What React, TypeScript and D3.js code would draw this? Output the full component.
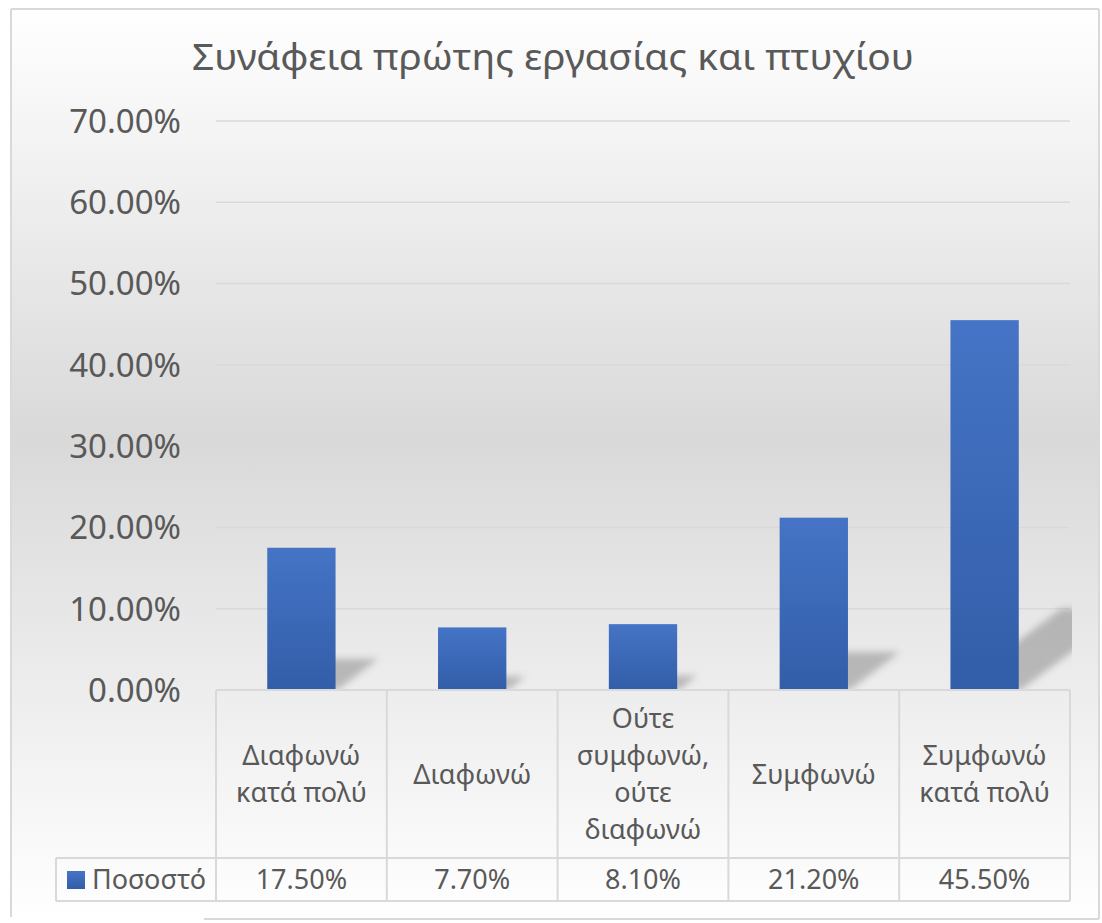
import React from "react";
import * as d3 from "d3";

const categories = ["Διαφωνώ κατά πολύ", "Διαφωνώ", "Ούτε συμφωνώ, ούτε διαφωνώ", "Συμφωνώ", "Συμφωνώ κατά πολύ"];
const categoryLines = [["Διαφωνώ", "κατά πολύ"], ["Διαφωνώ"], ["Ούτε", "συμφωνώ,", "ούτε", "διαφωνώ"], ["Συμφωνώ"], ["Συμφωνώ", "κατά πολύ"]];
const values = [0.175, 0.077, 0.081, 0.212, 0.455];
const valueLabels = ["17.50%", "7.70%", "8.10%", "21.20%", "45.50%"];
const yTicks = [0, 0.1, 0.2, 0.3, 0.4, 0.5, 0.6, 0.7];
const seriesName = "Ποσοστό";
const title = "Συνάφεια πρώτης εργασίας και πτυχίου";

const W = 1102;
const H = 923;
const FONT = "'Noto Sans', 'Open Sans', sans-serif";
const TEXT = "#595959";
const GRID = "#d9d9d9";

export default function App() {
  const plotL = 216, plotR = 1070, plotT = 121, plotB = 690;
  const rowDiv = 858, tableB = 901, legendL = 56;
  const x = d3.scaleBand<string>().domain(categories).range([plotL, plotR]).paddingInner(0.6).paddingOuter(0.3);
  const col = d3.scaleBand<string>().domain(categories).range([plotL, plotR]).padding(0);
  const y = d3.scaleLinear().domain([0, 0.7]).range([plotB, plotT]);
  const fmt = d3.format(".2%");
  const lineH = 37;
  const row1Mid = (plotB + rowDiv) / 2;
  const row2Mid = (rowDiv + tableB) / 2;

  return (
    <svg width={W} height={H} style={{ display: "block", position: "absolute", left: 0, top: 0 }}>
      <defs>
        <linearGradient id="bg" x1="0" y1="0" x2="0" y2="1">
          <stop offset="0" stopColor="#ffffff" />
          <stop offset="0.47" stopColor="#d9d9d9" />
          <stop offset="1" stopColor="#ffffff" />
        </linearGradient>
        <linearGradient id="bar" x1="0" y1="0" x2="0" y2="1">
          <stop offset="0" stopColor="#4574c6" />
          <stop offset="1" stopColor="#325da8" />
        </linearGradient>
        <filter id="blur" x="-50%" y="-50%" width="200%" height="200%">
          <feGaussianBlur stdDeviation="3.5" />
        </filter>
        <clipPath id="plotClip">
          <rect x={plotL} y={plotT - 20} width={plotR - plotL + 2} height={plotB - plotT + 20} />
        </clipPath>
      </defs>
      <rect x={0} y={0} width={W} height={H} fill="#ffffff" />
      <rect x={11} y={9} width={1088} height={910} fill="url(#bg)" />
      {/* frame */}
      <line x1={11} y1={9} x2={1099} y2={9} stroke="#d9d9d9" strokeWidth={2} />
      <line x1={11} y1={9} x2={11} y2={917} stroke="#d9d9d9" strokeWidth={2} />
      <line x1={1099} y1={9} x2={1099} y2={919} stroke="#d9d9d9" strokeWidth={2} />
      <line x1={204} y1={919} x2={1099} y2={919} stroke="#d9d9d9" strokeWidth={2} />

      <text x={553} y={70} textAnchor="middle" fontFamily={FONT} fontSize={36} fill={TEXT} textLength={722} lengthAdjust="spacingAndGlyphs">
        {title}
      </text>

      {yTicks.map((t) => (
        <g key={t}>
          {t > 0 && <line x1={plotL} x2={plotR} y1={y(t)} y2={y(t)} stroke={GRID} strokeWidth={1.5} />}
          <text x={181} y={y(t)} dy="0.36em" textAnchor="end" fontFamily={FONT} fontSize={33} fill={TEXT}>
            {fmt(t)}
          </text>
        </g>
      ))}

      {/* shadows */}
      <g clipPath="url(#plotClip)">
        {categories.map((c, i) => {
          const x0 = x(c)!;
          const x1 = x0 + x.bandwidth();
          const h = plotB - y(values[i]);
          const k = 0.3, s = 0.22;
          const pts = [
            [x0 + 2, plotB],
            [x1 + 2, plotB],
            [x1 + k * h, plotB - s * h],
            [x0 + k * h, plotB - s * h],
          ];
          return (
            <polygon key={c} points={pts.map((p) => p.join(",")).join(" ")} fill="#000" fillOpacity={0.22} filter="url(#blur)" />
          );
        })}
      </g>

      {categories.map((c, i) => (
        <rect key={c} x={x(c)} y={y(values[i])} width={x.bandwidth()} height={plotB - y(values[i])} fill="url(#bar)" />
      ))}

      {/* data table */}
      <g stroke={GRID} strokeWidth={2} fill="none">
        <line x1={plotL} x2={plotR} y1={plotB} y2={plotB} />
        <line x1={legendL} x2={plotR} y1={rowDiv} y2={rowDiv} />
        <line x1={legendL} x2={plotR} y1={tableB} y2={tableB} />
        <line x1={legendL} x2={legendL} y1={rowDiv} y2={tableB} />
        <line x1={plotL} x2={plotL} y1={plotB} y2={tableB} />
        {categories.map((c) => (
          <line key={c} x1={col(c)! + col.bandwidth()} x2={col(c)! + col.bandwidth()} y1={plotB} y2={tableB} />
        ))}
      </g>

      {categories.map((c, i) => {
        const cx = col(c)! + col.bandwidth() / 2;
        const lines = categoryLines[i];
        const start = row1Mid - ((lines.length - 1) * lineH) / 2;
        return (
          <g key={c}>
            {lines.map((ln, j) => (
              <text key={j} x={cx} y={start + j * lineH} dy="0.36em" textAnchor="middle" fontFamily={FONT} fontSize={27} fill={TEXT}>
                {ln}
              </text>
            ))}
            <text x={cx} y={row2Mid} dy="0.36em" textAnchor="middle" fontFamily={FONT} fontSize={27} fill={TEXT}>
              {valueLabels[i]}
            </text>
          </g>
        );
      })}

      <rect x={67} y={871} width={18} height={18} fill="url(#bar)" />
      <text x={92} y={row2Mid} dy="0.36em" fontFamily={FONT} fontSize={27} fill={TEXT}>
        {seriesName}
      </text>
    </svg>
  );
}
